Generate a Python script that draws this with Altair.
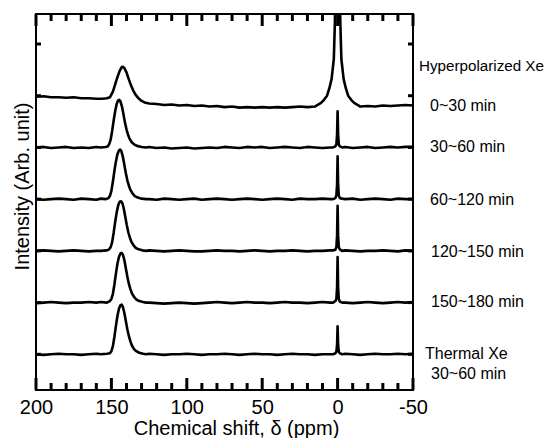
import altair as alt
import pandas as pd

series = ["0~30 min", "30~60 min", "60~120 min", "120~150 min", "150~180 min", "Thermal 30~60 min"]
offsets = [5, 4, 3, 2, 1, 0]

grid_ppm = [200, 195, 190, 185, 180, 175, 170, 165, 160, 155, 150, 145, 140, 135, 130,
            125, 120, 115, 110, 105, 100, 95, 90, 85, 80, 75, 70, 65, 60, 55, 50, 45,
            40, 35, 30, 25, 20, 15, 10, 5, 0, -5, -10, -15, -20, -25, -30, -35, -40, -45, -50]

base_1 = [-0.02, -0.01, -0.03, -0.03, -0.04, -0.03, -0.05, -0.05, -0.06,
          -0.06, -0.06, 0.0, 0.0, 0.0, -0.10,
          -0.15, -0.16, -0.18, -0.17, -0.19, -0.18, -0.20, -0.19, -0.21, -0.20, -0.22, -0.21,
          -0.23, -0.22, -0.23, -0.22, -0.23, -0.22, -0.23, -0.22, -0.21, -0.22, -0.21,
          -0.21, -0.21, 0.0, -0.21, -0.21,
          -0.21, -0.20, -0.21, -0.19, -0.20, -0.19, -0.18, -0.19]
base_2 = [0.0, 0.01, -0.01, 0.0, 0.01, -0.01, 0.0, -0.01, 0.01,
          0.0, 0.0, 0.0, 0.0, 0.0, 0.0,
          0.01, -0.01, 0.0, -0.02, -0.01, 0.0, -0.02, -0.01, 0.0, -0.01, 0.01, 0.0, -0.01,
          0.01, 0.0, 0.01, -0.01, 0.0, 0.01, 0.0, -0.01, 0.01, 0.0, -0.01, 0.0,
          0.0,
          0.01, -0.01, 0.0, 0.01, -0.01, 0.0, 0.01, 0.0, 0.01, 0.01]
base_3 = [0.0, -0.01, 0.0, 0.01, 0.0, -0.01, 0.01, 0.0, -0.01,
          0.0, 0.0, 0.0, 0.0, 0.0, 0.0,
          0.0, -0.01, 0.01, 0.0, -0.01, 0.0, 0.01, -0.01, 0.0, 0.01, 0.0, -0.01, 0.0,
          0.01, 0.0, -0.01, 0.0, 0.01, 0.0, -0.01, 0.01, 0.0, 0.0, 0.01, 0.0,
          0.0,
          0.0, 0.01, -0.01, 0.0, 0.01, 0.0, -0.01, 0.01, 0.0, 0.0]
base_4 = [0.0, 0.01, 0.0, -0.01, 0.0, 0.01, 0.0, -0.01, 0.0,
          0.0, 0.0, 0.0, 0.0, 0.0, 0.0,
          0.01, 0.0, -0.01, 0.0, 0.01, 0.0, -0.01, -0.01, 0.0, 0.01, 0.0, 0.0, -0.01,
          0.0, 0.01, 0.0, -0.01, 0.0, 0.0, 0.01, 0.0, -0.01, 0.0, 0.0, 0.01,
          0.0,
          0.01, 0.0, -0.01, 0.0, 0.0, 0.01, 0.0, -0.01, 0.01, 0.0]
base_5 = [-0.01, 0.0, 0.01, 0.0, -0.01, 0.0, 0.0, 0.01, 0.0,
          0.0, 0.0, 0.0, 0.0, 0.0, 0.0,
          0.0, -0.01, -0.02, -0.01, 0.0, -0.01, -0.02, -0.01, 0.0, 0.01, 0.0, -0.01, 0.0,
          0.01, 0.0, 0.0, -0.01, 0.0, 0.01, 0.0, 0.0, -0.01, 0.0, 0.01, 0.0,
          0.0,
          0.0, -0.01, 0.0, 0.01, 0.0, -0.01, 0.0, 0.01, 0.0, 0.01]
base_6 = [0.0, -0.01, 0.0, 0.01, 0.0, 0.0, -0.01, 0.0, 0.01,
          0.0, 0.0, 0.0, 0.0, 0.0, 0.0,
          0.01, 0.0, -0.01, 0.0, 0.0, 0.01, 0.0, -0.01, 0.0, 0.0, 0.01, 0.0, -0.01,
          0.0, 0.01, 0.0, 0.0, -0.01, 0.0, 0.01, 0.0, 0.0, -0.01, 0.0, 0.0,
          0.0,
          0.01, 0.0, -0.01, 0.0, 0.01, 0.0, 0.0, 0.01, 0.0, 0.01]

peak_c_1 = [(156, -0.06), (153, -0.05), (151, -0.03), (149, 0.08), (147.5, 0.22), (146, 0.36),
            (144.5, 0.48), (143.2, 0.55), (142.5, 0.56), (141.5, 0.54), (140, 0.45), (138.5, 0.32),
            (137, 0.20), (135.5, 0.10), (134, 0.02), (132, -0.05), (130, -0.10), (128, -0.13)]
peak_c_2 = [(157, 0.0), (154, 0.01), (152.5, 0.02), (151.5, 0.06), (150.5, 0.15), (149.5, 0.32),
            (148.5, 0.52), (147.5, 0.70), (146.5, 0.84), (145.5, 0.91), (144.8, 0.92), (144, 0.89),
            (143, 0.79), (142, 0.64), (141, 0.48), (140, 0.35), (139, 0.25), (138, 0.17),
            (136.5, 0.10), (135, 0.06), (133, 0.03), (130, 0.01), (127, 0.0)]
peak_c_3 = [(157, 0.01), (153.5, 0.0), (152, 0.02), (151, 0.06), (150, 0.16), (149, 0.34),
            (148, 0.55), (147, 0.73), (146, 0.87), (145, 0.94), (144.2, 0.96), (143.4, 0.93),
            (142.4, 0.82), (141.4, 0.66), (140.4, 0.50), (139.4, 0.36), (138.4, 0.26), (137.4, 0.18),
            (136, 0.11), (134.5, 0.06), (132.5, 0.03), (130, 0.01), (127, 0.0)]
peak_c_4 = [(157, 0.0), (153, 0.01), (151.5, 0.03), (150.5, 0.07), (149.5, 0.17), (148.5, 0.35),
            (147.5, 0.56), (146.5, 0.74), (145.5, 0.88), (144.5, 0.95), (143.6, 0.96), (142.8, 0.93),
            (141.8, 0.82), (140.8, 0.66), (139.8, 0.50), (138.8, 0.36), (137.8, 0.26), (136.8, 0.18),
            (135.4, 0.11), (134, 0.06), (132, 0.03), (129.5, 0.01), (127, 0.0)]
peak_c_5 = [(157, 0.01), (153, 0.0), (151, 0.03), (150, 0.07), (149, 0.17), (148, 0.35),
            (147, 0.56), (146, 0.75), (145, 0.88), (144, 0.95), (143.2, 0.96), (142.4, 0.93),
            (141.4, 0.82), (140.4, 0.66), (139.4, 0.50), (138.4, 0.36), (137.4, 0.26), (136.4, 0.18),
            (135, 0.11), (133.5, 0.06), (131.5, 0.03), (129, 0.01), (127, 0.0)]
peak_c_6 = [(157, 0.0), (153, 0.01), (151, 0.02), (150, 0.06), (149, 0.16), (148, 0.34),
            (147, 0.55), (146, 0.74), (145, 0.88), (144, 0.95), (143.2, 0.96), (142.4, 0.92),
            (141.4, 0.80), (140.4, 0.64), (139.4, 0.48), (138.4, 0.35), (137.4, 0.25), (136.4, 0.17),
            (135, 0.10), (133.5, 0.06), (131.5, 0.03), (129, 0.01), (127, 0.0)]

peak_xe_1 = [(14, -0.19), (11, -0.14), (9, -0.08), (7, 0.0), (5.5, 0.14), (4, 0.32), (2.5, 0.71),
             (1.8, 1.42), (1, 2.8), (0, 6.0), (-1, 2.8), (-1.8, 1.42), (-2.5, 0.71), (-4, 0.32),
             (-5.5, 0.14), (-7, 0.0), (-9, -0.08), (-11, -0.14), (-14, -0.19)]
peak_xe_2 = [(3, 0.0), (1.5, 0.02), (0.8, 0.06), (0.35, 0.25), (0, 0.70), (-0.35, 0.25),
             (-0.8, 0.06), (-1.5, 0.02), (-3, 0.0)]
peak_xe_3 = [(3, 0.0), (1.5, 0.02), (0.8, 0.07), (0.35, 0.28), (0, 0.83), (-0.35, 0.28),
             (-0.8, 0.07), (-1.5, 0.02), (-3, 0.01)]
peak_xe_4 = [(3, 0.01), (1.5, 0.02), (0.8, 0.07), (0.35, 0.29), (0, 0.87), (-0.35, 0.29),
             (-0.8, 0.07), (-1.5, 0.03), (-3, 0.0)]
peak_xe_5 = [(3, 0.0), (1.5, 0.03), (0.8, 0.07), (0.35, 0.29), (0, 0.88), (-0.35, 0.29),
             (-0.8, 0.07), (-1.5, 0.02), (-3, 0.0)]
peak_xe_6 = [(3, 0.0), (1.5, 0.02), (0.8, 0.05), (0.35, 0.18), (0, 0.54), (-0.35, 0.18),
             (-0.8, 0.05), (-1.5, 0.02), (-3, 0.0)]

baselines = [base_1, base_2, base_3, base_4, base_5, base_6]
peaks = [[peak_c_1, peak_xe_1], [peak_c_2, peak_xe_2], [peak_c_3, peak_xe_3],
         [peak_c_4, peak_xe_4], [peak_c_5, peak_xe_5], [peak_c_6, peak_xe_6]]

major_ticks = [200, 150, 100, 50, 0, -50]
minor_ticks = [190, 180, 170, 160, 140, 130, 120, 110, 90, 80, 70, 60, 40, 30, 20, 10,
               -10, -20, -30, -40]
y_ticks = [0, 1, 2, 3, 4, 5, 6]

label_texts = ["Hyperpolarized Xe", "0~30 min", "30~60 min", "60~120 min",
               "120~150 min", "150~180 min", "Thermal Xe", "30~60 min"]
label_level = [5.57, 4.81, 4.0, 2.99, 1.97, 1.02, 0.01, -0.38]

W, H = 377, 376
X_DOM = [-50, 200]
Y_DOM = [-0.69, 6.58]
FONT = "Liberation Sans"
xscale = alt.Scale(domain=X_DOM, reverse=True, nice=False, zero=False)
yscale = alt.Scale(domain=Y_DOM, nice=False, zero=False)
ppx_x = (X_DOM[1] - X_DOM[0]) / W
ppx_y = (Y_DOM[1] - Y_DOM[0]) / H

rows = []
for name, off, base, pks in zip(series, offsets, baselines, peaks):
    ranges = [(min(p for p, _ in pk), max(p for p, _ in pk)) for pk in pks]
    pts = [(p, v) for p, v in zip(grid_ppm, base)
           if not any(lo <= p <= hi for lo, hi in ranges)]
    for pk in pks:
        pts.extend(pk)
    pts.sort(key=lambda t: -t[0])
    for i, (p, v) in enumerate(pts):
        rows.append({"series": name, "ppm": p, "value": off + v, "order": i})
df = pd.DataFrame(rows)

# inward frame ticks, derived from the tick value lists
trows = []
def add_tick(key, p0, v0, p1, v1):
    trows.append({"tick": key, "ppm": p0, "value": v0, "k": 0})
    trows.append({"tick": key, "ppm": p1, "value": v1, "k": 1})

for t in major_ticks:
    add_tick(f"tb{t}", t, Y_DOM[0], t, Y_DOM[0] + 12 * ppx_y)
    add_tick(f"tt{t}", t, Y_DOM[1], t, Y_DOM[1] - 12 * ppx_y)
for t in minor_ticks:
    add_tick(f"mb{t}", t, Y_DOM[0], t, Y_DOM[0] + 7 * ppx_y)
    add_tick(f"mt{t}", t, Y_DOM[1], t, Y_DOM[1] - 7 * ppx_y)
for t in y_ticks:
    add_tick(f"yl{t}", X_DOM[1], t, X_DOM[1] - 5 * ppx_x, t)
    add_tick(f"yr{t}", X_DOM[0], t, X_DOM[0] + 5 * ppx_x, t)
tdf = pd.DataFrame(trows)

label_px = [383, 394, 394, 394, 395, 395, 389, 395]
label_fs = [15.2, 16, 16, 16, 16, 16, 16, 16]
labels_df = pd.DataFrame({"text": label_texts, "level": label_level,
                          "px": label_px, "fs": label_fs})

x_axis = alt.Axis(orient="bottom", values=major_ticks, ticks=False, tickSize=0,
                  domain=False, grid=False, labelFontSize=20, labelPadding=7,
                  labelFlush=False,
                  labelFont=FONT, labelColor="black", labelExpr="'' + datum.value",
                  title="Chemical shift, δ (ppm)", titleFontSize=20, titleFont=FONT,
                  titleFontWeight="normal", titleColor="black",
                  titleBaseline="alphabetic", titleX=200, titleY=44)
y_axis = alt.Axis(orient="left", ticks=False, tickSize=0, domain=False, grid=False,
                  labels=False, title="Intensity (Arb. unit)", titleFontSize=20,
                  titleFont=FONT, titleFontWeight="normal", titleColor="black",
                  titleX=-4, titleY=172)

traces = alt.Chart(df).mark_line(color="black", strokeWidth=2.6, clip=True,
                                 strokeJoin="round").encode(
    x=alt.X("ppm:Q", scale=xscale, axis=x_axis),
    y=alt.Y("value:Q", scale=yscale, axis=y_axis),
    detail="series:N",
    order="order:Q",
)

ticks = alt.Chart(tdf).mark_line(color="#000000", strokeWidth=3).encode(
    x=alt.X("ppm:Q", scale=xscale, axis=None),
    y=alt.Y("value:Q", scale=yscale, axis=None),
    detail="tick:N",
    order="k:Q",
)

texts = alt.Chart(labels_df).mark_text(align="left", baseline="middle",
                                        font=FONT, color="black").encode(
    x=alt.X("px:Q", scale=None, axis=None),
    y=alt.Y("level:Q", scale=yscale, axis=None),
    text="text:N",
    size=alt.Size("fs:Q", scale=None, legend=None),
)

chart = alt.layer(traces, ticks, texts).resolve_axis(x="independent", y="independent").properties(
    width=W, height=H,
    autosize=alt.AutoSizeParams(type="none"),
    padding={"left": 28, "top": 6, "right": 133, "bottom": 48},
).configure_view(stroke="black", strokeWidth=2)

chart.save("out.html", embed_options={"renderer": "svg", "actions": False})
